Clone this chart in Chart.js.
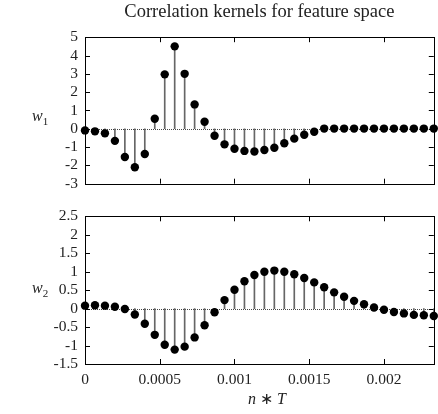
<!DOCTYPE html>
<html>
<head>
<meta charset="utf-8">
<script src="https://cdn.jsdelivr.net/npm/chart.js@4"></script>
<style>
  body { margin: 0; background: #fff; }
  #wrap { position: relative; width: 438px; height: 414px; font-family: "Liberation Serif", serif; }
  canvas { position: absolute; left: 0; }
  #c1 { top: 0; }
  #c2 { top: 200px; }
  .lab { position: absolute; font-size: 16px; font-style: italic; color: #222; white-space: nowrap; }
  .lab sub { font-style: normal; font-size: 11px; }
</style>
</head>
<body>
<div id="wrap">
  <canvas id="c1" width="438" height="200"></canvas>
  <canvas id="c2" width="438" height="214"></canvas>
  <div class="lab" style="left:32px; top:107px;">w<sub>1</sub></div>
  <div class="lab" style="left:32px; top:279px;">w<sub>2</sub></div>
  <div class="lab" style="left:248px; top:389px;">n <span style="font-style:normal">∗</span> T</div>
</div>
<script>
// sample period and sample times
const T = 1 / 15000;
const sampleIndex = Array.from({ length: 36 }, (_, i) => i);
const sampleTimes = sampleIndex.map(n => n * T);

// kernel values
const w1Values = [-0.09, -0.14, -0.25, -0.66, -1.54, -2.1, -1.38, 0.55, 2.97, 4.5,
                  3.0, 1.33, 0.38, -0.38, -0.85, -1.09, -1.21, -1.24, -1.16, -1.04,
                  -0.79, -0.54, -0.33, -0.16, 0.01, 0.01, 0.01, 0.01, 0.01, 0.01,
                  0.01, 0.01, 0.01, 0.01, 0.01, 0.01];
const w2Values = [0.08, 0.09, 0.08, 0.05, -0.01, -0.16, -0.41, -0.71, -0.98, -1.11,
                  -1.03, -0.78, -0.45, -0.10, 0.23, 0.51, 0.74, 0.91, 1.0, 1.03,
                  1.0, 0.93, 0.83, 0.71, 0.58, 0.44, 0.32, 0.21, 0.12, 0.03,
                  -0.03, -0.09, -0.13, -0.17, -0.18, -0.2];

// axis ticks
const xTicks = [0, 0.0005, 0.001, 0.0015, 0.002];
const xTickLabels = ['0', '0.0005', '0.001', '0.0015', '0.002'];
const w1Ticks = [-3, -2, -1, 0, 1, 2, 3, 4, 5];
const w2Ticks = [-1.5, -1, -0.5, 0, 0.5, 1, 1.5, 2, 2.5];

const FONT = 'Liberation Serif';

// frame, inward tick marks and dotted zero line
const framePlugin = {
    id: 'frame',
    beforeDatasetsDraw(chart) {
        const { ctx, chartArea: a, scales } = chart;
        const tl = 5;
        ctx.save();
        // zero line
        const y0 = Math.round(scales.y.getPixelForValue(0)) + 0.5;
        ctx.strokeStyle = '#444';
        ctx.lineWidth = 1;
        ctx.setLineDash([1, 1]);
        ctx.beginPath();
        ctx.moveTo(a.left, y0);
        ctx.lineTo(a.right, y0);
        ctx.stroke();
        ctx.setLineDash([]);
        // ticks
        ctx.strokeStyle = '#000';
        ctx.beginPath();
        scales.x.ticks.forEach(t => {
            const x = Math.round(scales.x.getPixelForValue(t.value)) + 0.5;
            ctx.moveTo(x, a.bottom); ctx.lineTo(x, a.bottom - tl);
            ctx.moveTo(x, a.top); ctx.lineTo(x, a.top + tl);
        });
        scales.y.ticks.forEach(t => {
            const y = Math.round(scales.y.getPixelForValue(t.value)) + 0.5;
            ctx.moveTo(a.left, y); ctx.lineTo(a.left + tl, y);
            ctx.moveTo(a.right, y); ctx.lineTo(a.right - tl, y);
        });
        ctx.stroke();
        ctx.strokeRect(Math.round(a.left) + 0.5, Math.round(a.top) + 0.5,
                       Math.round(a.right - a.left), Math.round(a.bottom - a.top));
        ctx.restore();
    }
};

function makeChart(id, values, yTicks, yMin, yMax, opts) {
    const points = sampleTimes.map((t, i) => ({ x: t, y: values[i] }));
    return new Chart(document.getElementById(id), {
        type: 'bar',
        data: {
            datasets: [
                {
                    type: 'scatter',
                    data: points,
                    pointRadius: 4.2,
                    pointHoverRadius: 4.2,
                    backgroundColor: '#000',
                    borderColor: '#000',
                    borderWidth: 0,
                    clip: false,
                    order: 0,
                },
                {
                    type: 'bar',
                    data: points,
                    barThickness: 1,
                    backgroundColor: '#666',
                    order: 1,
                }
            ]
        },
        options: {
            responsive: false,
            animation: false,
            events: [],
            layout: { padding: { left: 0, right: 3, top: opts.padTop, bottom: 0 } },
            plugins: {
                legend: { display: false },
                tooltip: { enabled: false },
                title: {
                    display: !!opts.title,
                    text: opts.title,
                    fullSize: false,
                    color: '#222',
                    font: { family: FONT, size: 18.5, weight: 'normal', lineHeight: 1.2 },
                    padding: { top: 1, bottom: 14 },
                }
            },
            scales: {
                x: {
                    type: 'linear',
                    min: 0,
                    max: 35 * T,
                    offset: false,
                    grid: { display: false, drawTicks: false },
                    border: { display: false },
                    afterBuildTicks: s => { s.ticks = xTicks.map(v => ({ value: v })); },
                    afterFit: s => { s.height = opts.xHeight; },
                    ticks: {
                        display: opts.xLabels,
                        color: '#222',
                        padding: 7,
                        maxRotation: 0,
                        autoSkip: false,
                        font: { family: FONT, size: 15.5 },
                        callback: (v, i) => xTickLabels[i],
                    }
                },
                y: {
                    min: yMin,
                    max: yMax,
                    grid: { display: false, drawTicks: false },
                    border: { display: false },
                    afterBuildTicks: s => { s.ticks = yTicks.map(v => ({ value: v })); },
                    afterFit: s => { s.width = 85; },
                    ticks: {
                        color: '#222',
                        padding: 7,
                        autoSkip: false,
                        font: { family: FONT, size: 15.5 },
                        callback: v => String(v),
                    }
                }
            }
        },
        plugins: [framePlugin]
    });
}

makeChart('c1', w1Values, w1Ticks, -3, 5,
          { title: 'Correlation kernels for feature space', padTop: 0, xHeight: 8, xLabels: false });
makeChart('c2', w2Values, w2Ticks, -1.5, 2.5,
          { title: '', padTop: 11, xHeight: 50, xLabels: true });
</script>
</body>
</html>
